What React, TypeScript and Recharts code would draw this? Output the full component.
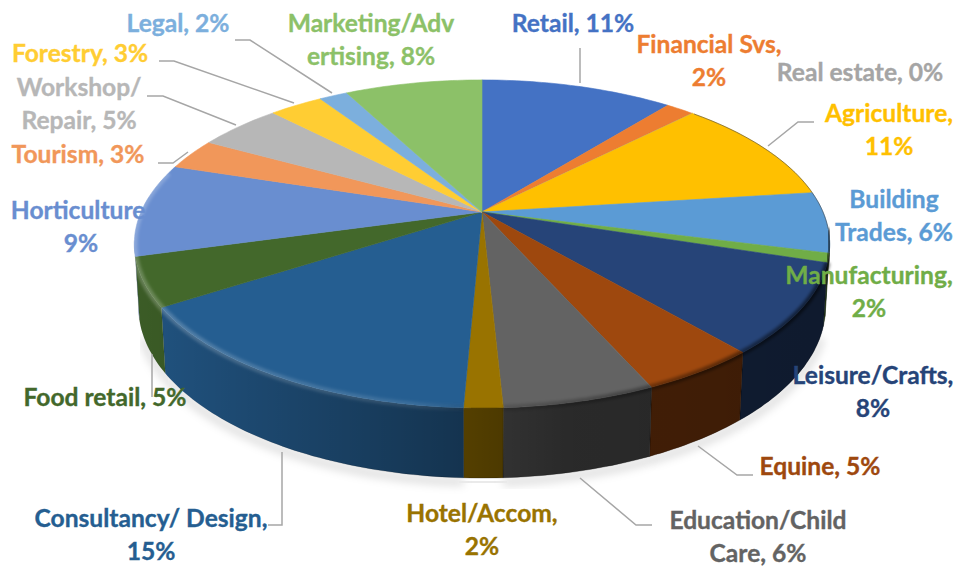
import { PieChart, Pie } from 'recharts';

const categories = ['Retail', 'Financial Svs', 'Real estate', 'Agriculture', 'Building Trades', 'Manufacturing', 'Leisure/Crafts', 'Equine', 'Education/Child Care', 'Hotel/Accom', 'Consultancy/ Design', 'Food retail', 'Horticulture', 'Tourism', 'Workshop/ Repair', 'Forestry', 'Legal', 'Marketing/Advertising'];
const shares = [10.8, 1.6, 0, 10.6, 6, 0.9, 8.8, 4.6, 5.9, 1.5, 15.2, 4.8, 9.2, 3.1, 4.7, 3, 1.6, 7.7];
const colors = ['#4472c4', '#ed7d31', '#a5a5a5', '#ffc000', '#5b9bd5', '#70ad47', '#264478', '#9e480e', '#636363', '#997300', '#255e91', '#43682b', '#698ed0', '#f1975a', '#b7b7b7', '#ffcd33', '#7cafdd', '#8cc168'];
const labelLines = [
  ['Retail, 11%'], ['Financial Svs,', '2%'], ['Real estate, 0%'], ['Agriculture,', '11%'], ['Building', 'Trades, 6%'],
  ['Manufacturing,', '2%'], ['Leisure/Crafts,', '8%'], ['Equine, 5%'], ['Education/Child', 'Care, 6%'], ['Hotel/Accom,', '2%'],
  ['Consultancy/ Design,', '15%'], ['Food retail, 5%'], ['Horticulture,', '9%'], ['Tourism, 3%'], ['Workshop/', 'Repair, 5%'],
  ['Forestry, 3%'], ['Legal, 2%'], ['Marketing/Adv', 'ertising, 8%'],
];

// label placement, separate from the values
const labelX = [573, 709, 860, 889, 894, 869, 873, 820, 758, 482, 151, 105, 81, 78, 79, 80, 178, 371];
const labelY = [32, 53, 81, 122, 208, 284, 384, 475, 529, 522, 527, 406, 219, 163, 96, 62, 32, 32];
const leaders: Record<number, string> = {
  0: '580,48 580,83',
  3: '814,122 798,122 768,146',
  7: '753,475 737,475 698,446',
  8: '652,525 636,525 580,478',
  10: '268,525 282,525 282,452',
  11: '152,354 152,397',
  13: '158,163 173,163 188,152',
  14: '147,96 163,96 236,125',
  15: '159,61 174,61 294,103',
  16: '235,40 250,40 332,93',
};

const chartData = categories.map((name, i) => ({ name, value: shares[i], fill: colors[i] }));

// the pie is a tilted disc: map a sector angle onto its perspective rim
const TILT = 0.195;
const rimPoint = (cx: number, cy: number, r: number, angle: number) => {
  const t = ((90 - angle) * Math.PI) / 180;
  const u = Math.sin(t);
  const v = -Math.cos(t);
  const d = 1 - TILT * v;
  return [cx + (3.41 * r * u) / d, cy + (1.578 * r * v) / d];
};
const floorPoint = (cx: number, cy: number, r: number, angle: number) => {
  const [x, y] = rimPoint(cx, cy, r, angle);
  return [cx + (x - cx) * 0.988, cy + 95 + (y - cy - 32) * 1.043];
};
const arc = (fn: typeof rimPoint, cx: number, cy: number, r: number, from: number, to: number) => {
  const n = Math.max(1, Math.ceil(Math.abs(to - from)));
  const pts: string[] = [];
  for (let i = 0; i <= n; i++) {
    const p = fn(cx, cy, r, from + ((to - from) * i) / n);
    pts.push(`${p[0].toFixed(1)} ${p[1].toFixed(1)}`);
  }
  return pts;
};
// visible front part of a sector, in recharts angles (front runs -10 to -170)
const frontRange = (start: number, end: number, lo = -170, hi = -10) => {
  const a = Math.min(start, hi);
  const b = Math.max(end, lo);
  return a > b ? [a, b] : null;
};

const TopShape = (p: any) => {
  const pts = arc(rimPoint, p.cx, p.cy, p.outerRadius, p.startAngle, p.endAngle);
  return <path d={`M${p.cx} ${p.cy} L${pts.join(' L')} Z`} fill={p.fill} stroke={p.fill} strokeWidth={0.6} />;
};

const WallShape = (p: any) => {
  const range = frontRange(p.startAngle, p.endAngle);
  if (!range) return <g />;
  const top = arc(rimPoint, p.cx, p.cy, p.outerRadius, range[0], range[1]);
  const floor = arc(floorPoint, p.cx, p.cy, p.outerRadius, range[1], range[0]);
  const d = `M${top.join(' L')} L${floor.join(' L')} Z`;
  return (
    <g>
      <path d={d} fill={p.fill} />
      <path d={d} fill="url(#wallShade)" stroke="url(#wallShade)" strokeWidth={0.5} />
    </g>
  );
};

const ShadowShape = (p: any) => {
  const range = frontRange(p.startAngle, p.endAngle, -160, -20);
  if (!range) return <g />;
  const floor = arc(floorPoint, p.cx, p.cy + 4, p.outerRadius, range[0], range[1]);
  return <path d={`M${floor.join(' L')}`} fill="none" stroke="#000" strokeOpacity={0.13} strokeWidth={8} filter="url(#soft)" />;
};

const RimShape = (p: any) => {
  const range = frontRange(p.startAngle, p.endAngle, -195, -6);
  const edge = frontRange(p.startAngle, p.endAngle, -6, 45);
  return (
    <g>
      {range && <path d={`M${arc(rimPoint, p.cx, p.cy, p.outerRadius, range[0], range[1]).join(' L')}`} fill="none" stroke="url(#rimShade)" strokeWidth={6} filter="url(#bevel)" />}
      {edge && <path d={`M${arc(rimPoint, p.cx, p.cy, p.outerRadius, edge[0], edge[1]).join(' L')}`} fill="none" stroke="#3a3a3a" strokeOpacity={0.55} strokeWidth={1} />}
    </g>
  );
};

const SliceLabel = (p: any) => {
  const i = p.index;
  return (
    <g>
      {leaders[i] && <polyline points={leaders[i]} fill="none" stroke="#a6a6a6" strokeWidth={1.5} />}
      <text x={labelX[i]} y={labelY[i]} textAnchor="middle" fill={colors[i]} stroke={colors[i]} strokeWidth={0.35} fontFamily="Lato" fontWeight={700} fontSize={24.6}>
        {labelLines[i].map((line, j) => (
          <tspan key={j} x={labelX[i]} dy={j === 0 ? 0 : 32.5}>{line}</tspan>
        ))}
      </text>
    </g>
  );
};

const pieProps = {
  data: chartData,
  dataKey: 'value',
  nameKey: 'name',
  cx: 482,
  cy: 212,
  outerRadius: 100,
  startAngle: 90,
  endAngle: -270,
  paddingAngle: 0,
  stroke: 'none',
  labelLine: false,
  isAnimationActive: false,
};

export default function App() {
  return (
    <div style={{ position: 'absolute', left: 0, top: 0, width: 959, height: 567, background: '#fff' }}>
      <PieChart width={959} height={567} margin={{ top: 0, right: 0, bottom: 0, left: 0 }}>
        <defs>
          <linearGradient id="wallShade" gradientUnits="userSpaceOnUse" x1={140} y1={0} x2={830} y2={0}>
            <stop offset="0%" stopColor="#000" stopOpacity={0.12} />
            <stop offset="48%" stopColor="#000" stopOpacity={0.46} />
            <stop offset="62%" stopColor="#000" stopOpacity={0.58} />
            <stop offset="100%" stopColor="#000" stopOpacity={0.62} />
          </linearGradient>
          <linearGradient id="rimShade" gradientUnits="userSpaceOnUse" x1={134} y1={0} x2={830} y2={0}>
            <stop offset="0%" stopColor="#fff" stopOpacity={0.22} />
            <stop offset="40%" stopColor="#fff" stopOpacity={0.1} />
            <stop offset="50%" stopColor="#000" stopOpacity={0.12} />
            <stop offset="100%" stopColor="#000" stopOpacity={0.55} />
          </linearGradient>
          <filter id="soft" x="-10%" y="-30%" width="120%" height="160%">
            <feGaussianBlur stdDeviation={4} />
          </filter>
          <filter id="bevel" x="-10%" y="-30%" width="120%" height="160%">
            <feGaussianBlur stdDeviation={1.8} />
          </filter>
        </defs>
        <Pie {...pieProps} shape={ShadowShape} />
        <Pie {...pieProps} shape={WallShape} />
        <Pie {...pieProps} shape={TopShape} />
        <Pie {...pieProps} shape={RimShape} label={SliceLabel} />
      </PieChart>
    </div>
  );
}
